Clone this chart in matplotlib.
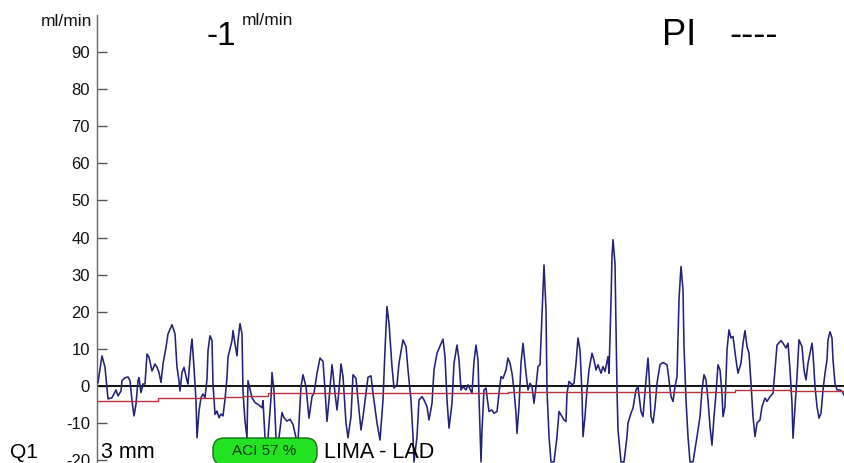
import matplotlib
matplotlib.use("Agg")
import matplotlib.pyplot as plt
from matplotlib.patches import FancyBboxPatch

# Flow trace (time in s, flow in ml/min)
time_s = [
    0.01, 0.05, 0.08, 0.11, 0.15, 0.19, 0.21, 0.24, 0.25, 0.28, 0.31, 0.33, 0.35, 0.37, 0.39,
    0.41, 0.42, 0.44, 0.46, 0.48, 0.50, 0.52, 0.55, 0.58, 0.60, 0.62, 0.64, 0.66, 0.69, 0.71,
    0.75, 0.78, 0.80, 0.82, 0.83, 0.85, 0.87, 0.90, 0.91, 0.94, 0.95, 0.97, 0.99, 1.00, 1.02,
    1.04, 1.06, 1.08, 1.10, 1.11, 1.13, 1.15, 1.16, 1.18, 1.20, 1.22, 1.24, 1.26, 1.28, 1.30,
    1.31, 1.35, 1.36, 1.38, 1.40, 1.41, 1.43, 1.45, 1.46, 1.48, 1.50, 1.51, 1.55, 1.58, 1.61,
    1.65, 1.66, 1.68, 1.70, 1.71, 1.74, 1.75, 1.77, 1.79, 1.80, 1.82, 1.85, 1.87, 1.90, 1.93,
    1.96, 1.99, 2.01, 2.04, 2.06, 2.09, 2.12, 2.15, 2.17, 2.20, 2.23, 2.26, 2.28, 2.30, 2.32,
    2.35, 2.36, 2.38, 2.40, 2.42, 2.44, 2.46, 2.49, 2.51, 2.54, 2.56, 2.59, 2.61, 2.64, 2.66,
    2.69, 2.71, 2.74, 2.76, 2.80, 2.83, 2.86, 2.88, 2.90, 2.92, 2.95, 2.97, 3.00, 3.02, 3.06,
    3.09, 3.11, 3.14, 3.16, 3.17, 3.20, 3.22, 3.25, 3.27, 3.30, 3.32, 3.35, 3.37, 3.40, 3.46,
    3.48, 3.50, 3.52, 3.55, 3.57, 3.60, 3.62, 3.64, 3.66, 3.69, 3.71, 3.75, 3.77, 3.79, 3.81,
    3.82, 3.84, 3.85, 3.87, 3.89, 3.90, 3.92, 3.95, 3.97, 4.00, 4.02, 4.04, 4.06, 4.09, 4.11,
    4.13, 4.15, 4.17, 4.19, 4.20, 4.22, 4.24, 4.26, 4.27, 4.29, 4.31, 4.33, 4.35, 4.37, 4.39,
    4.41, 4.43, 4.45, 4.47, 4.49, 4.50, 4.52, 4.54, 4.57, 4.60, 4.62, 4.65, 4.67, 4.69, 4.70,
    4.72, 4.75, 4.77, 4.79, 4.81, 4.83, 4.85, 4.86, 4.88, 4.90, 4.92, 4.95, 4.97, 4.99, 5.01,
    5.04, 5.06, 5.08, 5.11, 5.12, 5.14, 5.15, 5.16, 5.18, 5.20, 5.21, 5.24, 5.27, 5.30, 5.31,
    5.34, 5.36, 5.39, 5.41, 5.44, 5.46, 5.49, 5.51, 5.52, 5.54, 5.56, 5.58, 5.60, 5.63, 5.66,
    5.70, 5.72, 5.74, 5.76, 5.78, 5.80, 5.82, 5.84, 5.86, 5.87, 5.89, 5.91, 5.93, 5.96, 6.00,
    6.03, 6.05, 6.07, 6.09, 6.11, 6.13, 6.15, 6.17, 6.19, 6.21, 6.23, 6.25, 6.26, 6.28, 6.30,
    6.32, 6.34, 6.36, 6.39, 6.41, 6.44, 6.46, 6.48, 6.50, 6.52, 6.54, 6.56, 6.58, 6.60, 6.63,
    6.65, 6.68, 6.70, 6.73, 6.76, 6.78, 6.80, 6.84, 6.86, 6.89, 6.91, 6.93, 6.95, 6.96, 6.98,
    7.00, 7.02, 7.05, 7.07, 7.09, 7.11, 7.15, 7.16, 7.18, 7.20, 7.22, 7.24, 7.26, 7.28, 7.30,
    7.31, 7.33, 7.35, 7.36, 7.38, 7.40, 7.43, 7.45, 7.48,
]
flow = [
    0.9, 8.1, 5.0, -3.5, -3.2, -1.1, -2.7, -1.4, 1.4, 2.2, 2.4, 1.4, -4.0, -8.1, -4.9,
    1.4, 2.2, -1.8, 0.5, 0.5, 8.6, 7.7, 4.0, 5.9, 5.0, 3.6, 0.9, 5.9, 10.4, 14.0,
    16.5, 14.0, 5.0, 1.4, -1.4, 3.6, 5.0, 1.4, 0.5, 10.4, 12.6, 5.0, -4.0, -14.0, -6.8,
    -3.2, -2.2, -3.2, 1.8, 9.5, 13.5, 12.2, 0.5, -7.7, -6.8, -8.6, -7.6, -8.1, -3.6, 2.3,
    7.7, 12.2, 14.9, 11.3, 8.1, 12.2, 16.8, 14.0, -1.4, -9.5, -14.0, 1.4, -3.2, -4.5, -5.0,
    -5.9, -4.0, -14.0, -17.0, -14.0, -3.2, 3.6, -1.4, -14.0, -16.0, -14.0, -7.2, -8.6, -9.5, -9.0,
    -10.4, -14.0, -15.0, -0.2, 3.0, -0.2, -8.7, -2.9, -2.0, 3.4, 7.5, 6.6, -1.1, -9.6, -3.8,
    5.7, 3.4, -2.0, -6.5, -1.1, 5.9, 2.5, -10.0, -14.0, -8.3, 3.0, 2.0, -3.8, -11.9, -8.3,
    -2.0, 2.3, 2.7, -2.0, -10.0, -14.6, -3.8, 9.7, 21.4, 16.9, 5.2, -0.6, 0.3, 6.1, 12.4,
    10.6, 4.3, -3.8, -13.7, -20.5, -13.7, -3.8, -2.9, -3.8, -5.6, -9.2, -4.7, 4.3, 8.8, 12.6,
    7.9, -3.8, -11.4, -4.7, 6.1, 11.0, 7.0, -1.1, -0.2, -1.1, 0.3, -2.0, 6.6, 11.0, 7.0,
    -2.9, -20.5, -11.9, -1.1, -0.6, -2.9, -6.9, -6.5, -7.4, -6.9, -2.0, 2.5, 2.0, 4.3, 7.5,
    6.1, 3.4, -1.1, -7.4, -12.8, -5.6, 6.1, 11.5, 8.8, 3.4, -1.1, 0.7, -0.2, -4.7, -0.2,
    5.2, 5.7, 19.5, 32.6, 20.5, -1.1, -13.7, -20.5, -20.5, -13.7, -6.9, -8.3, -9.2, -9.6, -2.0,
    1.2, 0.3, 0.7, 6.1, 12.9, 9.7, -2.0, -13.7, -8.3, -1.1, 4.3, 8.8, 7.0, 4.3, 5.7,
    3.4, 5.2, 3.9, 7.9, 3.4, 22.7, 34.9, 39.4, 33.0, -1.1, -11.9, -20.5, -20.5, -13.7, -10.0,
    -7.4, -6.0, -1.1, -0.2, -6.9, -8.3, 1.6, 7.5, 3.4, -8.3, -10.0, -5.6, 0.7, 5.7, 6.3,
    5.7, 1.6, -2.9, -4.2, -0.2, 2.5, 23.2, 32.2, 25.9, 10.6, -3.8, -13.7, -20.5, -20.5, -13.7,
    -8.3, -1.1, 3.0, 1.6, -3.8, -11.0, -16.0, -8.3, -2.0, 5.7, 4.3, -2.0, -8.3, -5.6, 9.7,
    15.1, 12.9, 13.3, 7.0, 3.4, 6.1, 11.5, 14.9, 10.6, 8.8, 0.7, -8.3, -13.7, -10.0, -9.2,
    -5.6, -3.3, -4.2, -2.9, -2.0, 4.3, 11.0, 12.2, 11.5, 10.2, 11.5, 4.3, -4.7, -14.1, -5.6,
    2.5, 12.4, 10.6, 4.3, 1.6, 6.1, 11.5, 8.8, -0.2, -5.6, -8.7, -7.4, -1.1, 3.4, 7.0,
    12.4, 14.6, 12.9, 7.0, 0.7, -1.1, -1.1, -1.5, -2.9,
]

# Running mean flow (red step line)
mean_time_s = [0.00, 0.61, 1.28, 1.46, 1.71, 2.93, 4.11, 5.18, 6.38, 6.93, 7.48]
mean_flow = [-4.2, -3.3, -3.0, -2.7, -2.0, -1.8, -1.6, -1.6, -1.0, -1.3, -1.3]

y_ticks = [-20, -10, 0, 10, 20, 30, 40, 50, 60, 70, 80, 90]

FONT = ["Liberation Sans", "DejaVu Sans"]
NARROW = ["Liberation Sans Narrow", "Liberation Sans", "DejaVu Sans"]
plt.rcParams["font.family"] = FONT
plt.rcParams["axes.unicode_minus"] = False

fig = plt.figure(figsize=(8.45, 4.63), dpi=100)
ax = fig.add_axes([97 / 845, 0.0, 748 / 845, 1 - 15 / 463])

ax.plot(time_s, flow, color="#22227a", lw=1.15, zorder=3)
ax.plot(mean_time_s, mean_flow, color="#b8323e", lw=1.0, drawstyle="steps-post", zorder=4)
ax.axhline(0, color="black", lw=1.3, zorder=2)

ax.set_xlim(0, 7.48)
ax.set_ylim(-20.8, 100)
ax.set_yticks(y_ticks)
ax.set_xticks([])
ax.tick_params(axis="y", direction="in", length=7, width=1, color="#555555",
               labelsize=12, labelcolor="#111111", pad=5)
for side in ("top", "right", "bottom"):
    ax.spines[side].set_visible(False)
ax.spines["left"].set_color("#666666")
ax.spines["left"].set_linewidth(1.0)
ax.patch.set_alpha(0)

# Header texts
fig.text(92 / 845, 1 - 14 / 463, "ml/min", ha="right", va="top", fontsize=12.5, color="#111111")
fig.text(207 / 845, 1 - 45 / 463, "-1", ha="left", va="baseline", fontsize=24)
fig.text(242 / 845, 1 - 13 / 463, "ml/min", ha="left", va="top", fontsize=12.5, color="#111111")
fig.text(662 / 845, 1 - 45 / 463, "PI", ha="left", va="baseline", fontsize=26)
fig.text(729 / 845, 1 - 45 / 463, "----", ha="left", va="baseline", fontsize=26)

# Footer texts
fig.text(10 / 845, 1 - 458 / 463, "Q1", ha="left", va="baseline", fontsize=15)
fig.text(101 / 845, 1 - 458 / 463, "3 mm", ha="left", va="baseline", fontsize=15.5)
badge = FancyBboxPatch((2.13, -0.02), 1.04, 0.27,
                       boxstyle="round,pad=0,rounding_size=0.11",
                       transform=fig.dpi_scale_trans, facecolor="#22e222",
                       edgecolor="#1b6e1b", linewidth=1.0, zorder=5)
fig.patches.append(badge)
fig.text(264 / 845, 1 - 451 / 463, "ACI 57 %", ha="center", va="center",
         fontsize=11, family=NARROW, color="#0c3a0c", zorder=6)
fig.text(324 / 845, 1 - 458 / 463, "LIMA - LAD", ha="left", va="baseline", fontsize=15.5)

fig.savefig("out.png", dpi=100)
